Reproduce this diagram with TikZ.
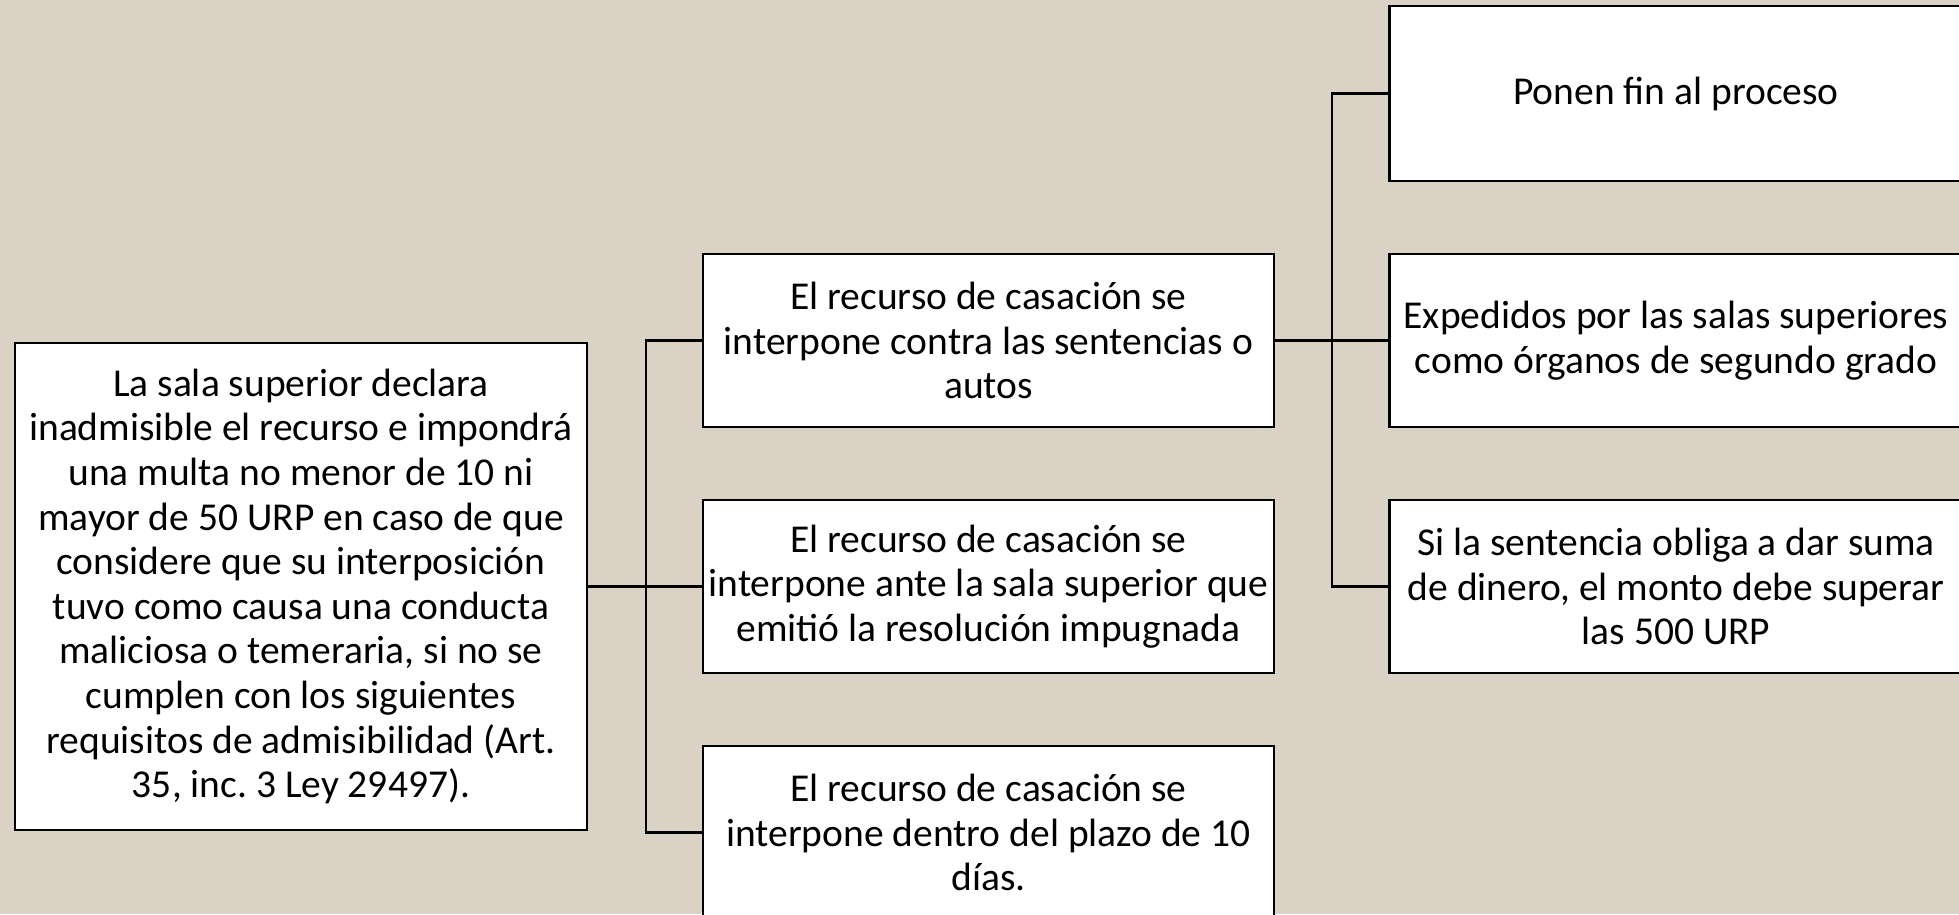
\documentclass[tikz,border=0pt]{standalone}
\usepackage{fontspec}
\setmainfont{Carlito}
\frenchspacing
\definecolor{paper}{RGB}{218,211,197}
\tikzset{
  box/.style={draw=black, line width=2.6pt, fill=white, align=center, inner sep=0pt,
    font=\fontsize{39.5}{44.6}\selectfont},
  link/.style={draw=black, line width=2.6pt}
}
\begin{document}
\begin{tikzpicture}[x=1pt,y=-1pt]
\useasboundingbox (0,0) rectangle (1959,914);
\clip (0,0) rectangle (1959,914);
\fill[paper] (0,0) rectangle (1959,914);
% left box
\node[box, minimum width=572pt, minimum height=487pt] (L) at (301,586.5)
 {La sala superior declara\\inadmisible el recurso e impondrá\\una multa no menor de 10 ni\\mayor de 50 URP en caso de que\\considere que su interposición\\tuvo como causa una conducta\\maliciosa o temeraria, si no se\\cumplen con los siguientes\\requisitos de admisibilidad (Art.\\35, inc. 3 Ley 29497).};
% middle boxes
\node[box, minimum width=571pt, minimum height=173pt] (M1) at (988.5,340.5)
 {El recurso de casación se\\interpone contra las sentencias o\\autos};
\node[box, minimum width=571pt, minimum height=173pt] (M2) at (988.5,586.5)
 {El recurso de casación se\\interpone ante la sala superior que\\emitió la resolución impugnada};
\node[box, minimum width=571pt, minimum height=173pt] (M3) at (988.5,832.5)
 {El recurso de casación se\\interpone dentro del plazo de 10\\días.};
% right boxes
\node[box, minimum width=573pt, minimum height=175pt] (R1) at (1676,93.5)
 {Ponen fin al proceso};
\node[box, minimum width=573pt, minimum height=173pt] (R2) at (1676,340.5)
 {Expedidos por las salas superiores\\como órganos de segundo grado};
\node[box, minimum width=573pt, minimum height=173pt] (R3) at (1676,586.5)
 {Si la sentencia obliga a dar suma\\de dinero, el monto debe superar\\las 500 URP};
% connectors
\coordinate (b1) at (646,586.5);
\draw[link] (L.east) -- (b1);
\draw[link] (M1.west) -| (b1) |- (M3.west);
\draw[link] (b1) -- (M2.west);
\coordinate (b2) at (1332,340.5);
\draw[link] (M1.east) -- (b2);
\draw[link] (R1.west) -| (b2) |- (R3.west);
\draw[link] (b2) -- (R2.west);
\end{tikzpicture}
\end{document}
